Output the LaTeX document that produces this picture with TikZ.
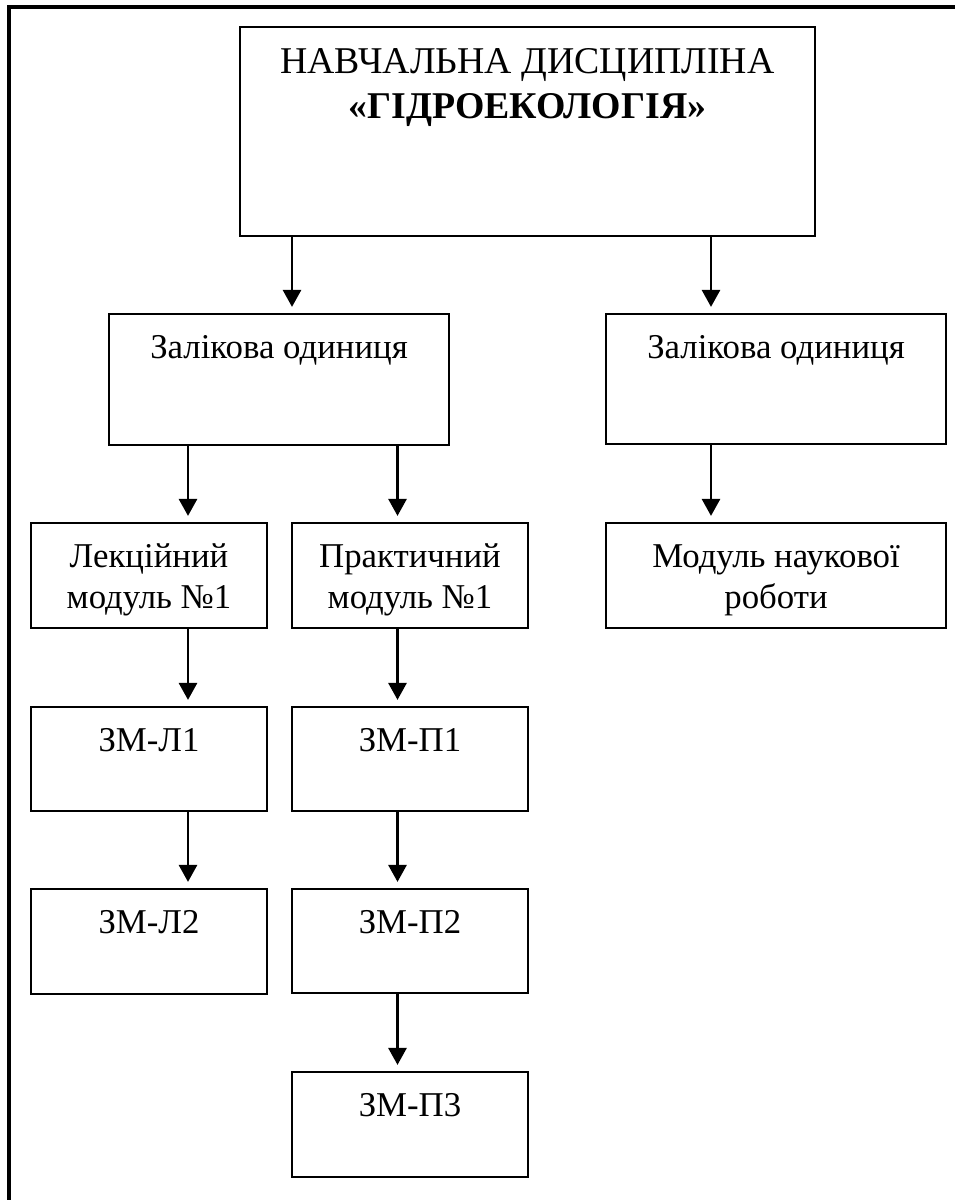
\documentclass[tikz,border=0pt]{standalone}
\usepackage{fontspec}
\setmainfont{Liberation Serif}
\usepackage{tikz}
\usetikzlibrary{
  arrows.meta
}
\tikzset{
  every node/.style={font=\fontsize{17.4}{20.5}\selectfont, text=black},
  unitbox/.style={
    draw=black,
    line width=1.1pt,
    inner sep=0pt,
    align=center,
    text height=22pt,
    text depth=30pt,
    minimum width=118pt
  },
  twoline/.style={text height=42.5pt, text depth=10pt},
  widebox/.style={unitbox, minimum width=170pt},
  frameline/.style={line width=1.6pt, draw=black},
  arr/.style={-{Triangle[length=8.5pt,width=9pt]}, line width=1.4pt, draw=black, shorten >=3pt},
}

\begin{document}
\begin{tikzpicture}[x=0.5pt, y=-0.5pt]

  \useasboundingbox (0,0) rectangle (954,1200);

  % =====================================================================
  % frame (top and left side only)
  % =====================================================================
  \draw[frameline] (9,1210) -- (9,7) -- (964,7);

  % =====================================================================
  % boxes
  % =====================================================================
  \node[unitbox, minimum width=287.5pt, text height=45.5pt, text depth=59pt,
        font=\fontsize{18.9}{22.5}\selectfont]
    (Disc) at (527.5,131.5) {НАВЧАЛЬНА ДИСЦИПЛІНА\\\textbf{«ГІДРОЕКОЛОГІЯ»}};

  \node[widebox, text depth=43.5pt] (Zo1) at (279,379.5) {Залікова одиниця};
  \node[widebox, text depth=43pt]   (Zo2) at (776,379)   {Залікова одиниця};

  \node[unitbox, twoline] (Lm1) at (149,575.5) {Лекційний\\модуль №1};
  \node[unitbox, twoline] (Pm1) at (410,575.5) {Практичний\\модуль №1};
  \node[widebox, twoline] (Nr)  at (776,575.5) {Модуль наукової\\роботи};

  \node[unitbox] (Zl1) at (149,759)    {ЗМ-Л1};
  \node[unitbox, text depth=30.5pt] (Zl2) at (149,941.5) {ЗМ-Л2};

  \node[unitbox] (Zp1) at (410,759)    {ЗМ-П1};
  \node[unitbox] (Zp2) at (410,941)    {ЗМ-П2};
  \node[unitbox, text depth=30.5pt] (Zp3) at (410,1124.5) {ЗМ-П3};

  % =====================================================================
  % arrows (columns)
  % =====================================================================
  \coordinate (colA) at (292,0);
  \coordinate (colB) at (711,0);
  \coordinate (colC) at (188,0);
  \coordinate (colD) at (397.5,0);

  \draw[arr] (Disc.south -| colA) -- (Zo1.north -| colA);
  \draw[arr] (Disc.south -| colB) -- (Zo2.north -| colB);

  \draw[arr] (Zo1.south -| colC) -- (Lm1.north -| colC);
  \draw[arr] (Zo1.south -| colD) -- (Pm1.north -| colD);
  \draw[arr] (Zo2.south -| colB) -- (Nr.north -| colB);

  \draw[arr] (Lm1.south -| colC) -- (Zl1.north -| colC);
  \draw[arr] (Zl1.south -| colC) -- (Zl2.north -| colC);

  \draw[arr] (Pm1.south -| colD) -- (Zp1.north -| colD);
  \draw[arr] (Zp1.south -| colD) -- (Zp2.north -| colD);
  \draw[arr] (Zp2.south -| colD) -- (Zp3.north -| colD);

\end{tikzpicture}
\end{document}
